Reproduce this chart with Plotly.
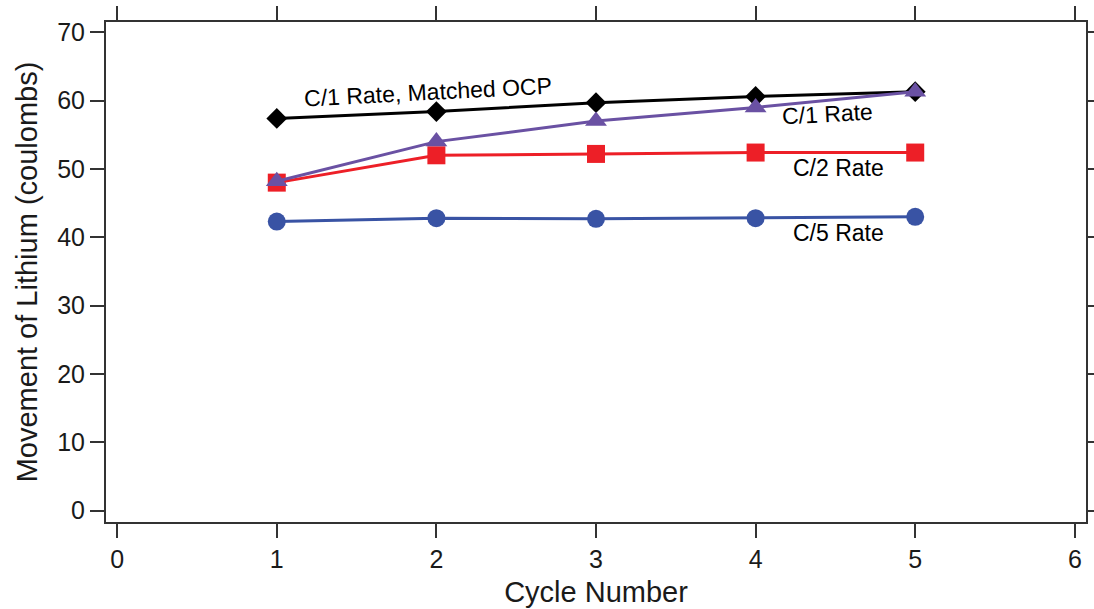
import plotly.graph_objects as go

cycles = [1, 2, 3, 4, 5]
c1_matched_ocp = [57.4, 58.4, 59.7, 60.6, 61.3]
c1_rate = [48.2, 54.0, 57.0, 59.0, 61.3]
c2_rate = [48.0, 52.0, 52.2, 52.4, 52.4]
c5_rate = [42.3, 42.8, 42.7, 42.8, 43.0]

x_ticks = [0, 1, 2, 3, 4, 5, 6]
y_ticks = [0, 10, 20, 30, 40, 50, 60, 70]

FONT = "Liberation Sans, Arial, sans-serif"

fig = go.Figure()

# drawing order: later series sit on top
series = [
    (c5_rate, "#3953a4", "circle", 18),
    (c2_rate, "#ed1f27", "square", 18),
    (c1_matched_ocp, "#000000", "diamond", 16),
    (c1_rate, "#6a51a3", "triangle-up", 19),
]
for ys, color, symbol, size in series:
    fig.add_trace(go.Scatter(
        x=cycles, y=ys, mode="lines+markers",
        line=dict(color=color, width=3),
        marker=dict(symbol=symbol, size=size, color=color),
        showlegend=False,
    ))

labels = [
    ("C/1 Rate, Matched OCP", 1.95, 61.2, -3),
    ("C/1 Rate", 4.45, 58.1, -3),
    ("C/2 Rate", 4.52, 50.2, 0),
    ("C/5 Rate", 4.52, 40.7, 0),
]
for text, x, y, angle in labels:
    fig.add_annotation(
        x=x, y=y, text=text, showarrow=False, textangle=angle,
        font=dict(family=FONT, size=23, color="#000000"),
    )

axis_common = dict(
    showgrid=False, zeroline=False, automargin=False,
    showline=True, linecolor="#333333", linewidth=2,
    ticks="outside", ticklen=14, tickwidth=2, tickcolor="#333333",
    mirror="ticks",
    tickfont=dict(family=FONT, size=25, color="#1a1a1a"),
)

fig.update_xaxes(
    range=[-0.07, 6.07], tickvals=x_ticks,
    title=dict(text="Cycle Number", font=dict(family=FONT, size=29, color="#1a1a1a"), standoff=10),
    **axis_common,
)
fig.update_yaxes(
    range=[-1.65, 71.5], tickvals=y_ticks,
    title=dict(text="Movement of Lithium (coulombs)", font=dict(family=FONT, size=29, color="#1a1a1a"), standoff=11),
    **axis_common,
)

fig.update_layout(
    width=1094, height=609,
    margin=dict(l=106, r=8, t=22, b=87),
    plot_bgcolor="white", paper_bgcolor="white",
)

fig.write_html("out.html")
